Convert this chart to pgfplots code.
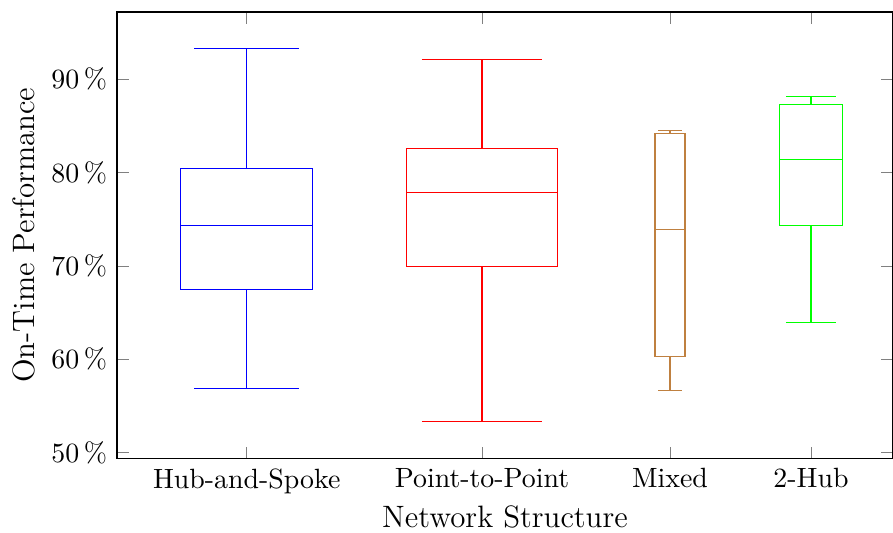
\documentclass[border=0pt]{standalone}
\usepackage{pgfplots}
\pgfplotsset{compat=1.18}
\usepgfplotslibrary{statistics}
\usetikzlibrary{calc}
\begin{document}
\begin{tikzpicture}
\begin{axis}[
  scale only axis,
  width=278.5pt, height=160.3pt,
  xmin=0, xmax=7.76,
  ymin=49.33, ymax=97.21,
  boxplot/draw direction=y,
  xtick={1.297,3.65,5.53,6.94},
  xticklabels={Hub-and-Spoke,Point-to-Point,Mixed,2-Hub},
  ytick={50,60,70,80,90},
  yticklabel={\pgfmathprintnumber{\tick}\,\%},
  xlabel={Network Structure},
  ylabel={On-Time Performance},
  label style={font=\fontsize{11.1}{13}\selectfont},
  xlabel style={yshift=2.5pt},
  ylabel style={yshift=-1pt},
]
\addplot[blue, boxplot/draw direction=y, boxplot prepared={lower whisker=56.83, lower quartile=67.43, median=74.36, upper quartile=80.47, upper whisker=93.25, draw position=1.297, box extend=1.317}] coordinates {};
\addplot[red, boxplot/draw direction=y, boxplot prepared={lower whisker=53.32, lower quartile=69.93, median=77.90, upper quartile=82.57, upper whisker=92.07, draw position=3.65, box extend=1.503}] coordinates {};
\addplot[brown, boxplot/draw direction=y, boxplot prepared={lower whisker=56.64, lower quartile=60.28, median=73.86, upper quartile=84.14, upper whisker=84.50, draw position=5.53, box extend=0.30}] coordinates {};
\addplot[green, boxplot/draw direction=y, boxplot prepared={lower whisker=63.93, lower quartile=74.36, median=81.39, upper quartile=87.28, upper whisker=88.18, draw position=6.94, box extend=0.626}] coordinates {};
\end{axis}
\pgfresetboundingbox
\useasboundingbox ($(current axis.south west)+(-42pt,-26.6pt)$) rectangle ($(current axis.north east)+(0,4.3pt)$);
\end{tikzpicture}
\end{document}
